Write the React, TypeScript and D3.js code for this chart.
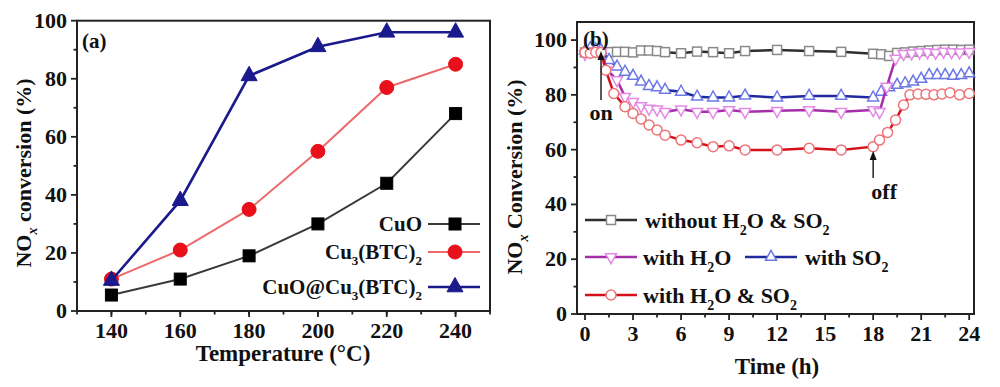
import React from 'react';
import * as d3 from 'd3';

// ---- panel (a) data ----
const temps = [140, 160, 180, 200, 220, 240];
const cuo = [5.5, 11, 19, 30, 44, 68];
const cuBtc = [11, 21, 35, 55, 77, 85];
const cuoAtBtc = [10.5, 38, 81, 91, 96, 96];

// ---- panel (b) data ----
const tWithout = [0, 0.33, 0.67, 1, 1.5, 2, 2.5, 3, 3.5, 4, 4.5, 5, 6, 7, 8, 9, 10, 12, 14, 16, 18, 18.5, 19, 19.5, 20, 20.5, 21, 21.5, 22, 22.5, 23, 23.5, 24];
const vWithout = [95.5, 95.6, 95.5, 95.5, 95.6, 95.7, 95.7, 95.5, 96.2, 96.2, 96, 95.6, 95.2, 95.8, 95.6, 95.2, 96, 96.4, 96, 95.7, 95, 94.8, 94.2, 95.3, 95.5, 95.8, 96, 96.2, 96.4, 96.5, 96.5, 96.4, 96.5];

const tH2O = [0, 0.33, 0.67, 1, 1.4, 2, 2.5, 3, 3.5, 4, 4.5, 5, 6, 7, 8, 9, 10, 12, 14, 16, 18, 18.4, 18.85, 19.4, 19.9, 20.4, 20.9, 21.4, 21.9, 22.4, 22.9, 23.4, 24];
const vH2O = [95, 95.8, 96, 95.5, 89, 85.4, 79.3, 77.5, 75.9, 75, 74.7, 73.8, 74.7, 73.8, 73.8, 74.5, 73.8, 74.2, 74.5, 73.8, 74.5, 73.8, 83, 93.3, 95, 95.2, 95.5, 95.6, 95.4, 95.8, 95.6, 95.5, 95.7];

const tSO2 = [0, 0.33, 0.67, 1, 1.5, 2, 2.5, 3, 3.5, 4, 4.5, 5, 6, 7, 8, 9, 10, 12, 14, 16, 18, 18.5, 19, 19.5, 20, 20.5, 21, 21.5, 22, 22.5, 23, 23.5, 24];
const vSO2 = [96, 97, 96.5, 96.3, 92.7, 90.3, 88.4, 86.9, 84.8, 83.2, 82.7, 81.8, 81.1, 79.3, 79, 79, 79.7, 79, 79.6, 79.6, 79, 81.1, 82.7, 83.6, 84.2, 84.8, 85.8, 87.2, 87.2, 87.2, 86.9, 87.2, 87.8];

const tBoth = [0, 0.33, 0.67, 1, 1.3, 1.8, 2.5, 3, 3.5, 4, 4.5, 5, 6, 7, 8, 9, 10, 12, 14, 16, 18, 18.4, 18.9, 19.4, 19.9, 20.3, 20.8, 21.3, 21.8, 22.3, 22.8, 23.4, 24];
const vBoth = [95.5, 95.2, 95.6, 95.5, 89, 80.5, 75.7, 73.2, 71.2, 69, 67.2, 65.3, 63.5, 62.5, 61.1, 61.4, 59.9, 59.9, 60.5, 59.9, 61.1, 63.5, 66.3, 70.8, 76.3, 80, 80.3, 80.2, 80, 80.3, 80.8, 80, 80.5];

const FONT = '"Liberation Serif", "Times New Roman", serif';

const xA = d3.scaleLinear().domain([130, 250]).range([77, 490]);
const yA = d3.scaleLinear().domain([0, 100]).range([311, 20.7]);
const xB = d3.scaleLinear().domain([-0.5, 24.3]).range([577, 974]);
const yB = d3.scaleLinear().domain([0, 106.6]).range([314, 22]);

function triPath(cx: number, cy: number, s: number, down = false) {
  const h = s * 0.9;
  const d = down ? -1 : 1;
  return `M${cx},${cy - (d * h * 2) / 3}L${cx + s / 2},${cy + (d * h) / 3}L${cx - s / 2},${cy + (d * h) / 3}Z`;
}

function Marker({ kind, x, y, size, fill, stroke, sw }: any) {
  if (kind === 'square')
    return <rect x={x - size / 2} y={y - size / 2} width={size} height={size} fill={fill} stroke={stroke} strokeWidth={sw} />;
  if (kind === 'circle') return <circle cx={x} cy={y} r={size / 2} fill={fill} stroke={stroke} strokeWidth={sw} />;
  return <path d={triPath(x, y, size, kind === 'down')} fill={fill} stroke={stroke} strokeWidth={sw} />;
}

function Axes({ x, y, xTicks, xMinor, yTicks, yMinor }: any) {
  const [x0, x1] = x.range();
  const [y0, y1] = y.range();
  return (
    <g>
      <rect x={x0} y={y1} width={x1 - x0} height={y0 - y1} fill="none" stroke="#222" strokeWidth={2} />
      {xMinor.map((t: number) => (
        <line key={'xm' + t} x1={x(t)} x2={x(t)} y1={y0} y2={y0 + 3.5} stroke="#222" strokeWidth={1.8} />
      ))}
      {xTicks.map((t: number) => (
        <g key={'x' + t}>
          <line x1={x(t)} x2={x(t)} y1={y0} y2={y0 + 6} stroke="#222" strokeWidth={1.8} />
          <text x={x(t)} y={y0 + 27} textAnchor="middle" fontSize={22} fontWeight="bold" fontFamily={FONT} fill="#111">
            {t}
          </text>
        </g>
      ))}
      {yMinor.map((t: number) => (
        <line key={'ym' + t} x1={x0} x2={x0 - 3.5} y1={y(t)} y2={y(t)} stroke="#222" strokeWidth={1.8} />
      ))}
      {yTicks.map((t: number) => (
        <g key={'y' + t}>
          <line x1={x0} x2={x0 - 6} y1={y(t)} y2={y(t)} stroke="#222" strokeWidth={1.8} />
          <text x={x0 - 10} y={y(t) + 7} textAnchor="end" fontSize={22} fontWeight="bold" fontFamily={FONT} fill="#111">
            {t}
          </text>
        </g>
      ))}
    </g>
  );
}

function PanelA() {
  const series = [
    { name: 'cuo', v: cuo, line: '#3a3a3a', fill: '#000', stroke: '#000', kind: 'square', size: 12, lw: 2 },
    { name: 'btc', v: cuBtc, line: '#ee6a6a', fill: '#e8101a', stroke: '#e8101a', kind: 'circle', size: 14, lw: 2 },
    { name: 'at', v: cuoAtBtc, line: '#1a1a8c', fill: '#1a1a8c', stroke: '#1a1a8c', kind: 'up', size: 16, lw: 2.6 },
  ];
  const line = (v: number[]) =>
    d3
      .line<number>()
      .x((_, i) => xA(temps[i]))
      .y((d) => yA(d))(v) as string;
  const legendRows = [
    { s: series[0], y: 224, label: <tspan>CuO</tspan> },
    {
      s: series[1],
      y: 252,
      label: (
        <>
          <tspan>Cu</tspan>
          <tspan fontSize={13} dy={6}>3</tspan>
          <tspan dy={-6}>(BTC)</tspan>
          <tspan fontSize={13} dy={6}>2</tspan>
        </>
      ),
    },
    {
      s: series[2],
      y: 287,
      label: (
        <>
          <tspan>CuO@Cu</tspan>
          <tspan fontSize={13} dy={6}>3</tspan>
          <tspan dy={-6}>(BTC)</tspan>
          <tspan fontSize={13} dy={6}>2</tspan>
        </>
      ),
    },
  ];
  return (
    <g>
      <Axes
        x={xA}
        y={yA}
        xTicks={d3.range(140, 241, 20)}
        xMinor={d3.range(130, 251, 10)}
        yTicks={d3.range(0, 101, 20)}
        yMinor={d3.range(10, 100, 20)}
      />
      {series.map((s) => (
        <g key={s.name}>
          <path d={line(s.v)} fill="none" stroke={s.line} strokeWidth={s.lw} />
          {s.v.map((v, i) => (
            <Marker key={i} kind={s.kind} x={xA(temps[i])} y={yA(v)} size={s.size} fill={s.fill} stroke={s.stroke} sw={1} />
          ))}
        </g>
      ))}
      {legendRows.map((r, i) => (
        <g key={i}>
          <line x1={428} x2={480} y1={r.y} y2={r.y} stroke={r.s.line} strokeWidth={r.s.lw} />
          <Marker kind={r.s.kind} x={455} y={r.y} size={r.s.size} fill={r.s.fill} stroke={r.s.stroke} sw={1} />
          <text x={422} y={r.y + 7} textAnchor="end" fontSize={21} fontWeight="bold" fontFamily={FONT} fill="#111">
            {r.label}
          </text>
        </g>
      ))}
      <text x={82} y={48} fontSize={21} fontWeight="bold" fontFamily={FONT} fill="#111">(a)</text>
      <text x={283} y={361} textAnchor="middle" fontSize={23} fontWeight="bold" fontFamily={FONT} fill="#111">
        Temperature (°C)
      </text>
      <text transform="translate(31,173) rotate(-90)" textAnchor="middle" fontSize={22} fontWeight="bold" fontFamily={FONT} fill="#111">
        <tspan>NO</tspan>
        <tspan fontSize={14} fontStyle="italic" dy={6}>x</tspan>
        <tspan dy={-6}> conversion (%)</tspan>
      </text>
    </g>
  );
}

function PanelB() {
  const series = [
    { name: 'without', t: tWithout, v: vWithout, line: '#2e2e2e', stroke: '#8a8a8a', kind: 'square', size: 9 },
    { name: 'so2', t: tSO2, v: vSO2, line: '#1f2a9e', stroke: '#6c78e6', kind: 'up', size: 11 },
    { name: 'h2o', t: tH2O, v: vH2O, line: '#a42fa8', stroke: '#e48ae6', kind: 'down', size: 11 },
    { name: 'both', t: tBoth, v: vBoth, line: '#d4101c', stroke: '#ef7478', kind: 'circle', size: 10 },
  ];
  const line = (t: number[], v: number[]) =>
    d3
      .line<number>()
      .x((_, i) => xB(t[i]))
      .y((d) => yB(d))(v) as string;
  const sub = (s: string) => (
    <tspan fontSize={14} dy={7}>{s}</tspan>
  );
  const txt = { fontSize: 22, fontWeight: 'bold', fontFamily: FONT, fill: '#111' } as any;
  const legendItem = (s: any, x: number, y: number) => (
    <g>
      <line x1={x} x2={x + 52} y1={y} y2={y} stroke={s.line} strokeWidth={2.5} />
      <Marker kind={s.kind} x={x + 26} y={y} size={s.size} fill="#fff" stroke={s.stroke} sw={1.5} />
    </g>
  );
  return (
    <g>
      <Axes
        x={xB}
        y={yB}
        xTicks={d3.range(0, 25, 3)}
        xMinor={d3.range(1.5, 24, 3)}
        yTicks={d3.range(0, 101, 20)}
        yMinor={d3.range(10, 101, 20)}
      />
      {series.map((s) => (
        <g key={s.name}>
          <path d={line(s.t, s.v)} fill="none" stroke={s.line} strokeWidth={2.5} />
          {s.v.map((v, i) => (
            <Marker key={i} kind={s.kind} x={xB(s.t[i])} y={yB(v)} size={s.size} fill="#fff" stroke={s.stroke} sw={1.5} />
          ))}
        </g>
      ))}
      {/* on / off annotations */}
      <line x1={xB(1)} x2={xB(1)} y1={100} y2={57} stroke="#222" strokeWidth={1.5} />
      <path d={`M${xB(1)},51L${xB(1) + 3.5},60L${xB(1) - 3.5},60Z`} fill="#111" />
      <text x={xB(1)} y={120} textAnchor="middle" {...txt}>on</text>
      <line x1={xB(18)} x2={xB(18)} y1={178} y2={157} stroke="#222" strokeWidth={1.5} />
      <path d={`M${xB(18)},151L${xB(18) + 3.5},160L${xB(18) - 3.5},160Z`} fill="#111" />
      <text x={xB(18) + 11} y={199} textAnchor="middle" {...txt}>off</text>
      {/* legend */}
      {legendItem(series[0], 585, 220)}
      <text x={645} y={228} {...txt}>
        <tspan>without H</tspan>
        {sub('2')}
        <tspan dy={-7}>O &amp; SO</tspan>
        {sub('2')}
      </text>
      {legendItem(series[2], 585, 257)}
      <text x={643} y={265} {...txt}>
        <tspan>with H</tspan>
        {sub('2')}
        <tspan dy={-7}>O</tspan>
      </text>
      {legendItem(series[1], 745, 257)}
      <text x={805} y={265} {...txt}>
        <tspan>with SO</tspan>
        {sub('2')}
      </text>
      {legendItem(series[3], 585, 295)}
      <text x={643} y={303} {...txt}>
        <tspan>with H</tspan>
        {sub('2')}
        <tspan dy={-7}>O &amp; SO</tspan>
        {sub('2')}
      </text>
      <text x={583} y={46} fontSize={21} fontWeight="bold" fontFamily={FONT} fill="#111">(b)</text>
      <text x={777} y={374} textAnchor="middle" fontSize={23} fontWeight="bold" fontFamily={FONT} fill="#111">
        Time (h)
      </text>
      <text transform="translate(522,177) rotate(-90)" textAnchor="middle" fontSize={22} fontWeight="bold" fontFamily={FONT} fill="#111">
        <tspan>NO</tspan>
        <tspan fontSize={14} fontStyle="italic" dy={6}>x</tspan>
        <tspan dy={-6}> Conversion (%)</tspan>
      </text>
    </g>
  );
}

export default function App() {
  return (
    <svg width={1000} height={387} style={{ position: 'absolute', left: 0, top: 0, background: '#fff' }}>
      <rect width={1000} height={387} fill="#fff" />
      <PanelA />
      <PanelB />
    </svg>
  );
}
